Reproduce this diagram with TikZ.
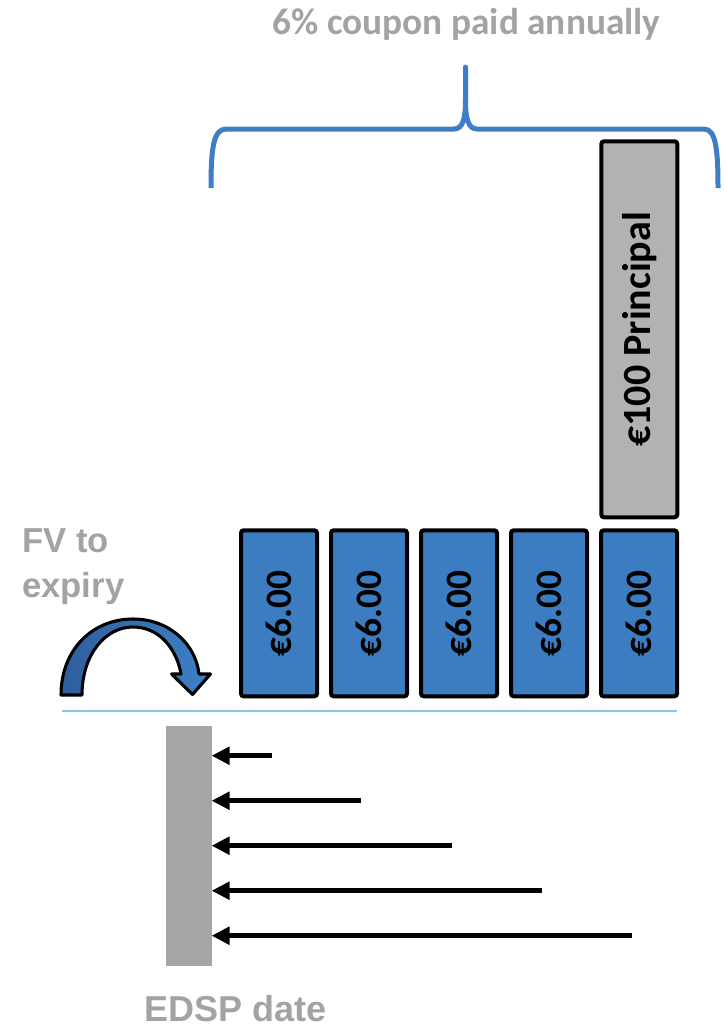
\documentclass[tikz,border=0pt]{standalone}
\usepackage{fontspec}
\setmainfont{Carlito}[BoldFont={Carlito Bold}, ItalicFont={Carlito Italic}, BoldItalicFont={Carlito Bold Italic}]
\setsansfont{Liberation Sans}[BoldFont={Liberation Sans Bold}]
\usetikzlibrary{arrows.meta}

\definecolor{cpnblue}{RGB}{60,124,192}
\definecolor{bracecol}{RGB}{61,126,198}
\definecolor{axiscol}{RGB}{142,195,234}
\definecolor{labelgray}{RGB}{163,163,163}
\definecolor{principalgray}{RGB}{178,178,178}
\definecolor{bargray}{RGB}{166,166,166}
\definecolor{arcdark}{RGB}{46,94,155}
\definecolor{arclight}{RGB}{62,128,199}

\begin{document}
\begin{tikzpicture}[x=0.75pt,y=-0.75pt,
  cashbox/.style={draw=black, line width=3pt, rounded corners=2pt, inner sep=0pt,
    rotate=90, font=\fontsize{28}{30}\selectfont\bfseries\upshape},
  coupon/.style={cashbox, fill=cpnblue, minimum width=124.5pt, minimum height=57pt},
  principal/.style={cashbox, fill=principalgray, minimum width=282pt, minimum height=57pt,
    font=\fontsize{30}{32}\selectfont\bfseries\upshape},
  graylabel/.style={text=labelgray, inner sep=0pt},
  flow/.style={line width=3.5pt, -{Triangle[length=13.5pt,width=13pt]}, shorten >=-0.5pt},
]
\useasboundingbox (0,0) rectangle (726,1029);

% heading and the brace spanning the payment dates
\node[graylabel, anchor=base, font=\fontsize{28}{30}\selectfont\bfseries\upshape] (title) at (466.5,34) {6\% coupon paid annually};
\draw[bracecol, line width=3.75pt, line join=round]
  (211,188) .. controls (211,150) and (213,129) .. (226,129) -- (454,129)
  .. controls (463,129) and (465.5,118) .. (465.5,100) -- (465.5,67) -- (465.5,100)
  .. controls (465.5,118) and (468,129) .. (477,129) -- (704,129)
  .. controls (716,129) and (718,150) .. (718,188);

% coupon cash flows and the principal repayment
\node[coupon] (c1) at (279,613.3) {€6.00};
\node[coupon] (c2) at (369,613.3) {€6.00};
\node[coupon] (c3) at (459,613.3) {€6.00};
\node[coupon] (c4) at (549,613.3) {€6.00};
\node[coupon] (c5) at (639,613.3) {€6.00};
\node[principal] (prin) at (639.3,329.3) {€100 Principal};

% time axis
\coordinate (axl) at (62,711);
\coordinate (axr) at (677,711);
\draw[axiscol, line width=1.5pt] (axl) -- (axr);

% forward value label and curved arrow
\node[graylabel, anchor=base west, align=left, font=\sffamily\bfseries\fontsize{26}{33.75}\selectfont] (fv) at (22,597) {FV to\\expiry};
\draw[line width=2.3pt, line join=round, left color=arcdark, right color=arclight]
  (61,695) .. controls (61,650) and (92,619) .. (133,619)
  .. controls (170,619) and (196,645) .. (199,674)
  -- (210.5,674) -- (192.5,694.5) -- (171.5,674) -- (181,674)
  .. controls (177,650) and (160,627) .. (133,627)
  .. controls (105,627) and (82,655) .. (82,695) -- cycle;

% EDSP settlement bar with discounting arrows
\node[fill=bargray, minimum width=34.5pt, minimum height=180pt, inner sep=0pt] (edsp) at (189,846) {};
\node[graylabel, anchor=base, font=\sffamily\bfseries\fontsize{27}{30}\selectfont] (edsplabel) at (236,1021) {EDSP date};

\coordinate (s1) at (271.7,755.7);
\coordinate (s2) at (361.3,800.7);
\coordinate (s3) at (451.7,845.7);
\coordinate (s4) at (541.7,890.7);
\coordinate (s5) at (631.7,935.7);
\foreach \s in {s1,s2,s3,s4,s5}
  \draw[flow] (\s) -- (\s -| edsp.east);
\end{tikzpicture}
\end{document}
